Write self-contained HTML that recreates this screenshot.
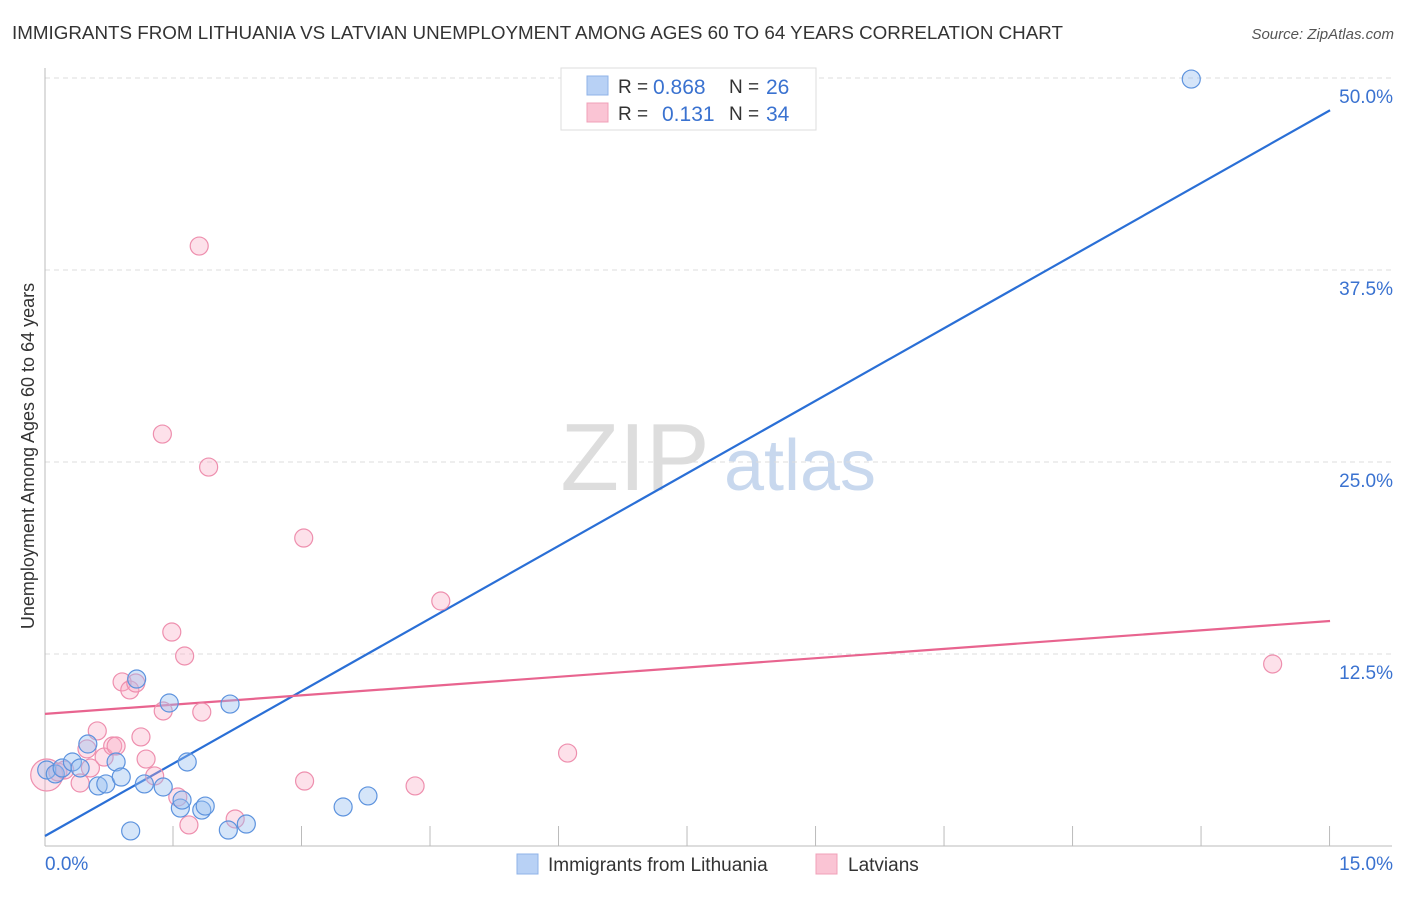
<!DOCTYPE html>
<html><head><meta charset="utf-8"><style>
body{margin:0;background:#fff;font-family:"Liberation Sans",sans-serif;}
svg text{font-family:"Liberation Sans",sans-serif;}
</style></head><body>
<svg id="chart" width="1406" height="892">
<text x="12" y="39" font-size="18" fill="#333" textLength="1051" lengthAdjust="spacingAndGlyphs">IMMIGRANTS FROM LITHUANIA VS LATVIAN UNEMPLOYMENT AMONG AGES 60 TO 64 YEARS CORRELATION CHART</text>
<text x="1394" y="39" font-size="15" fill="#555" font-style="italic" text-anchor="end">Source: ZipAtlas.com</text>
<text transform="translate(34,456) rotate(-90)" font-size="18" fill="#333" text-anchor="middle">Unemployment Among Ages 60 to 64 years</text>
<g><text x="635" y="490" font-size="96" fill="#ddd" font-family="Liberation Serif" text-anchor="middle">ZIP</text><text x="800" y="490" font-size="72" fill="#c8d8ee" text-anchor="middle">atlas</text></g>
<g id="grid"></g><g id="axes"></g><g id="lines"></g><g id="pts"></g>
<g>
<rect x="561" y="68" width="255" height="62" fill="#fff" stroke="#ddd"/>
<rect x="587" y="76" width="21" height="19" fill="#b8d1f5" stroke="#8fb3e8"/>
<rect x="587" y="103" width="21" height="19" fill="#fac4d4" stroke="#f0a0b8"/>
<text x="618" y="93" font-size="19" fill="#333">R =</text>
<text x="653" y="94" font-size="21" fill="#3a72d0">0.868</text>
<text x="729" y="93" font-size="19" fill="#333">N =</text>
<text x="766" y="94" font-size="21" fill="#3a72d0">26</text>
<text x="618" y="120" font-size="19" fill="#333">R =</text>
<text x="662" y="121" font-size="21" fill="#3a72d0">0.131</text>
<text x="729" y="120" font-size="19" fill="#333">N =</text>
<text x="766" y="121" font-size="21" fill="#3a72d0">34</text>
</g>
<g>
<rect x="517" y="854" width="21" height="20" fill="#b8d1f5" stroke="#8fb3e8"/>
<text x="548" y="871" font-size="19" fill="#333">Immigrants from Lithuania</text>
<rect x="816" y="854" width="21" height="20" fill="#fac4d4" stroke="#f0a0b8"/>
<text x="848" y="871" font-size="19" fill="#333">Latvians</text>
</g>
</svg>
<script>
const blueX=[0.02,0.12,0.20,0.32,0.41,0.50,0.62,0.71,0.83,0.89,1.00,1.07,1.16,1.38,1.45,1.58,1.60,1.66,1.83,1.87,2.14,2.16,2.35,3.48,3.77,13.38];
const blueY=[4.95,4.69,5.08,5.47,5.08,6.64,3.91,4.04,5.47,4.49,0.98,10.87,4.04,3.84,9.31,2.47,2.99,5.47,2.34,2.60,1.04,9.24,1.43,2.54,3.26,49.93];
const pinkX=[0.02,0.15,0.23,0.41,0.49,0.53,0.61,0.69,0.79,0.83,0.90,0.99,1.06,1.12,1.18,1.28,1.37,1.38,1.48,1.55,1.63,1.68,1.80,1.83,1.91,2.22,3.02,3.03,4.32,4.62,6.10,14.33];
const pinkY=[4.62,4.82,4.95,4.10,6.32,5.08,7.49,5.79,6.51,6.51,10.68,10.16,10.61,7.10,5.66,4.56,26.82,8.79,13.93,3.19,12.37,1.37,39.06,8.72,24.67,1.76,20.05,4.23,3.91,15.95,6.05,11.85];
const blueTrend=[0.65,47.9];
const pinkTrend=[8.6,14.65];
const yTicks=[12.5,25.0,37.5,50.0];
const xTickVals=[1.5,3,4.5,6,7.5,9,10.5,12,13.5,15];
const NS="http://www.w3.org/2000/svg";
const X=v=>45+v*85.67, Y=v=>846-v*15.36;
function mk(p,t,a){const e=document.createElementNS(NS,t);for(const k in a)e.setAttribute(k,a[k]);p.appendChild(e);return e;}
const grid=document.getElementById('grid'),axes=document.getElementById('axes'),lines=document.getElementById('lines'),pts=document.getElementById('pts');
yTicks.forEach(v=>{
 const l=mk(grid,'line',{x1:45,x2:1392,y1:Y(v),y2:Y(v),stroke:'#ddd','stroke-dasharray':'5,4'});
 
 
 const t=mk(axes,'text',{x:1393,y:Y(v)+25,'font-size':19,fill:'#3a72d0','text-anchor':'end'});t.textContent=v.toFixed(1)+'%';
 
 
});
const ax=mk(axes,'line',{x1:45,x2:45,y1:68,y2:846,stroke:'#bbb'});


const bx=mk(axes,'line',{x1:45,x2:1392,y1:846,y2:846,stroke:'#bbb'});


xTickVals.forEach(v=>{const t=mk(axes,'line',{x1:X(v)-0.5,x2:X(v)-0.5,y1:826,y2:846,stroke:'#bbb'});
 
 });
const x0=mk(axes,'text',{x:45,y:870,'font-size':19,fill:'#3a72d0'});x0.textContent='0.0%';


const x1=mk(axes,'text',{x:1393,y:870,'font-size':19,fill:'#3a72d0','text-anchor':'end'});x1.textContent='15.0%';


pinkX.forEach((v,i)=>{const c=mk(pts,'circle',{cx:X(v),cy:Y(pinkY[i]),r:i==0?16:9,fill:'rgba(248,170,195,0.35)',stroke:'#ee8fae','stroke-width':1.2});
 
 });
blueX.forEach((v,i)=>{const c=mk(pts,'circle',{cx:X(v),cy:Y(blueY[i]),r:9,fill:'rgba(150,190,240,0.4)',stroke:'#5d93de','stroke-width':1.2});
 
 });
const bl=mk(lines,'line',{x1:X(0),y1:Y(blueTrend[0]),x2:X(15),y2:Y(blueTrend[1]),stroke:'#2a6fd6','stroke-width':2.2});


const pl=mk(lines,'line',{x1:X(0),y1:Y(pinkTrend[0]),x2:X(15),y2:Y(pinkTrend[1]),stroke:'#e8648f','stroke-width':2.2});


</script>
</body></html>
